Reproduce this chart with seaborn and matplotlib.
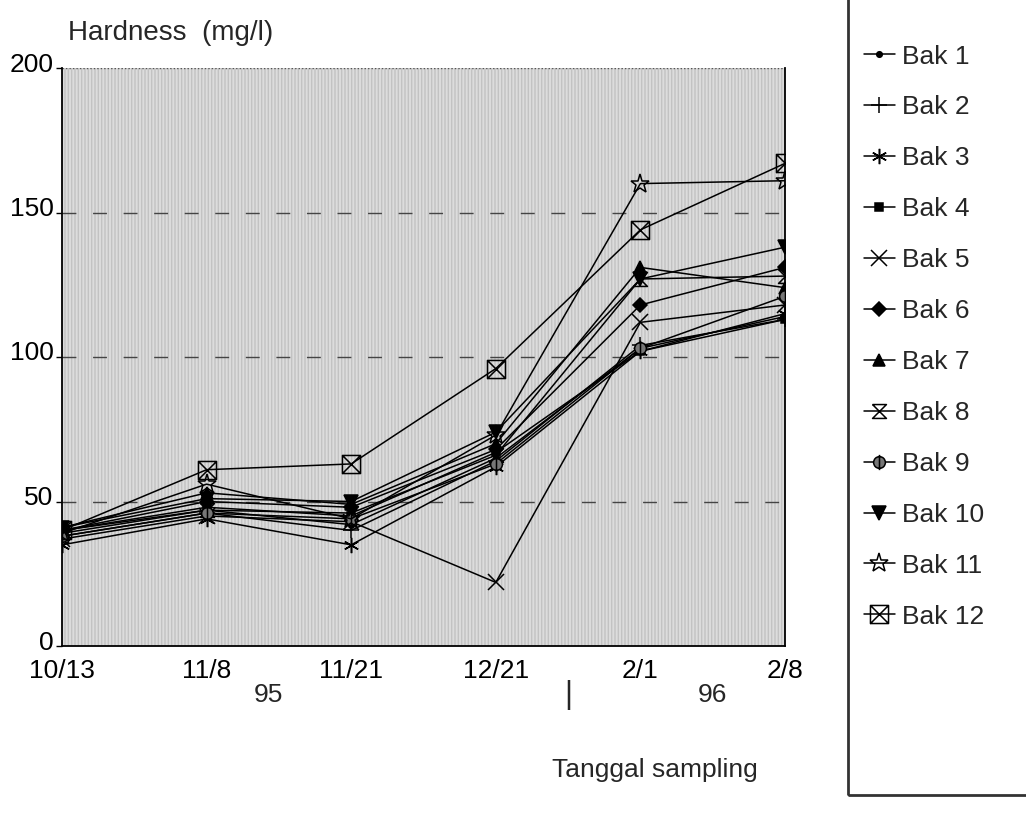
import numpy as np
import pandas as pd
import matplotlib
matplotlib.use("Agg")
import matplotlib.pyplot as plt
import matplotlib.transforms as mtransforms
from matplotlib.path import Path
from matplotlib.patches import Rectangle
import seaborn as sns

dates = ["10/13", "11/8", "11/21", "12/21", "2/1", "2/8"]
bak1 = [40, 47, 42, 65, 103, 114]
bak2 = [38, 46, 40, 64, 104, 113]
bak3 = [35, 44, 35, 62, 102, 115]
bak4 = [40, 48, 45, 67, 102, 113]
bak5 = [37, 45, 43, 22, 112, 118]
bak6 = [40, 50, 48, 68, 118, 131]
bak7 = [41, 53, 49, 70, 131, 124]
bak8 = [39, 47, 46, 66, 127, 128]
bak9 = [38, 46, 44, 63, 103, 121]
bak10 = [41, 51, 50, 74, 127, 138]
bak11 = [39, 56, 44, 73, 160, 161]
bak12 = [40, 61, 63, 96, 144, 167]
series_names = ["Bak 1", "Bak 2", "Bak 3", "Bak 4", "Bak 5", "Bak 6",
                "Bak 7", "Bak 8", "Bak 9", "Bak 10", "Bak 11", "Bak 12"]
series_values = [bak1, bak2, bak3, bak4, bak5, bak6, bak7, bak8, bak9, bak10, bak11, bak12]
y_ticks = [0, 50, 100, 150, 200]

# custom marker shapes
hourglass = Path([(-1, 1), (1, 1), (-1, -1), (1, -1), (-1, 1)],
                 [Path.MOVETO, Path.LINETO, Path.LINETO, Path.LINETO, Path.LINETO])
circ_bar = Path.make_compound_path(Path.unit_circle(),
                                   Path([(0, -1.3), (0, 1.3)], [Path.MOVETO, Path.LINETO]))
sq_x = Path([(-1, -1), (1, -1), (1, 1), (-1, 1), (-1, -1), (1, 1), (-1, 1), (1, -1)],
            [Path.MOVETO, Path.LINETO, Path.LINETO, Path.LINETO, Path.LINETO,
             Path.LINETO, Path.MOVETO, Path.LINETO])

styles = [
    dict(marker="o", ms=4, mfc="black"),
    dict(marker="+", ms=12, mfc="none"),
    dict(marker=(6, 2, 0), ms=11, mfc="none"),
    dict(marker="s", ms=6, mfc="black"),
    dict(marker="x", ms=11, mfc="none"),
    dict(marker="D", ms=7, mfc="black"),
    dict(marker="^", ms=9, mfc="black"),
    dict(marker=hourglass, ms=10, mfc="none"),
    dict(marker=circ_bar, ms=11, mfc="#777777"),
    dict(marker="v", ms=10, mfc="black"),
    dict(marker="*", ms=14, mfc="none"),
    dict(marker=sq_x, ms=13, mfc="none"),
]

sns.set_theme(style="white")
plt.rcParams["font.family"] = ["Liberation Sans", "DejaVu Sans"]

fig = plt.figure(figsize=(10.26, 8.18), dpi=100)
W, H = 1026, 818
ax = fig.add_axes([62 / W, 1 - 646 / H, (785 - 62) / W, (646 - 68) / H])

ax.set_facecolor("#dcdcdc")
ax.patch.set_hatch("|||||")
ax.patch.set_edgecolor("#c2c2c2")
ax.patch.set_linewidth(0)

xpos = np.arange(len(dates))
for name, vals, st in zip(series_names, series_values, styles):
    df = pd.DataFrame({"x": xpos, "y": vals})
    sns.lineplot(data=df, x="x", y="y", ax=ax, color="black", linewidth=1.1,
                 marker=st["marker"], markersize=st["ms"], markerfacecolor=st["mfc"],
                 markeredgecolor="black", markeredgewidth=1.1, label=name, zorder=3)

for yv in [50, 100, 150]:
    ax.axhline(yv, color="#444444", linewidth=1.0, dashes=(10, 12), zorder=1)
ax.axhline(200, color="#555555", linewidth=1.0, dashes=(1, 1.5), zorder=1)

ax.set_xlim(0, len(dates) - 1)
ax.set_ylim(0, 200)
ax.set_xticks(xpos)
ax.set_xticklabels(dates)
ax.set_yticks(y_ticks)
ax.set_xlabel("")
ax.set_ylabel("")
ax.tick_params(axis="both", labelsize=19, colors="black")
ax.tick_params(axis="y", length=4, width=1, direction="out", left=True, pad=2)
ax.tick_params(axis="x", length=0, pad=9)
shift = mtransforms.ScaledTranslation(0, 6 / 100, fig.dpi_scale_trans)
for lab in ax.get_yticklabels():
    lab.set_transform(lab.get_transform() + shift)
for s in ["left", "bottom", "right"]:
    ax.spines[s].set_visible(True)
    ax.spines[s].set_color("black")
    ax.spines[s].set_linewidth(1.3)
ax.spines["top"].set_visible(False)

leg_h, leg_l = ax.get_legend_handles_labels()
ax.legend().remove()
fig.legend(leg_h, leg_l, loc="upper left", bbox_to_anchor=(853 / W, 1 - 34 / H),
           frameon=False, fontsize=19, handlelength=1.2, handletextpad=0.25,
           labelspacing=1.02, borderaxespad=0)

fig.patches.append(Rectangle((848 / W, 1 - 795 / H), 0.3, 0.99, transform=fig.transFigure,
                             fill=False, edgecolor="#333333", linewidth=2))

fig.text(68 / W, 1 - 33 / H, "Hardness  (mg/l)", fontsize=20, va="center", ha="left")
fig.text(268 / W, 1 - 695 / H, "95", fontsize=19, va="center", ha="center")
fig.text(568 / W, 1 - 695 / H, "|", fontsize=22, va="center", ha="center")
fig.text(712 / W, 1 - 695 / H, "96", fontsize=19, va="center", ha="center")
fig.text(655 / W, 1 - 770 / H, "Tanggal sampling", fontsize=19, va="center", ha="center")

fig.savefig("out.png", dpi=100)
